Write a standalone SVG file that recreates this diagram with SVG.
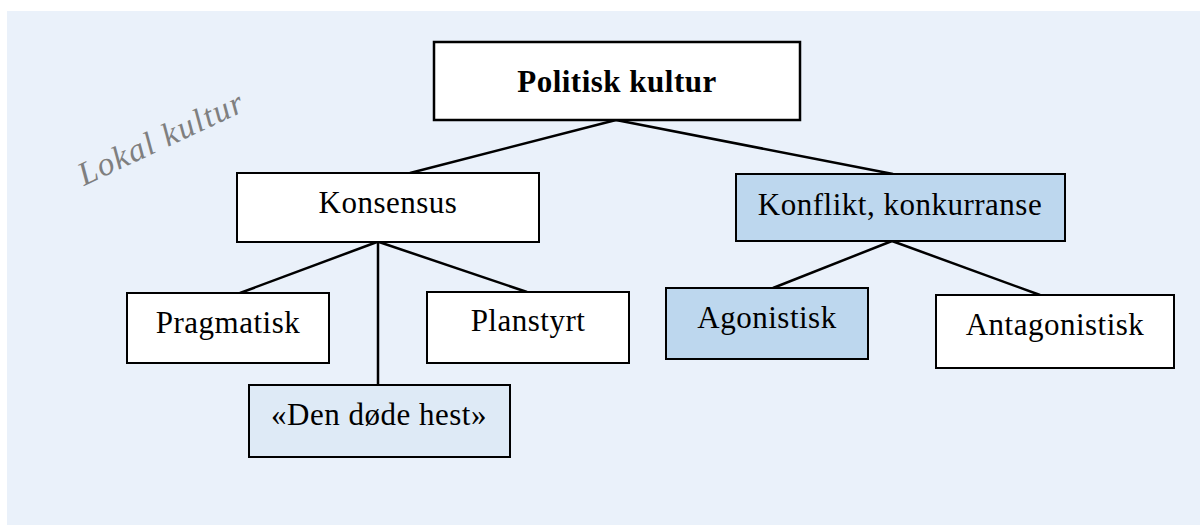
<svg xmlns="http://www.w3.org/2000/svg" width="1200" height="525" viewBox="0 0 1200 525">
  <style>
    .box { stroke: #000; stroke-width: 2; }
    .plain { fill: #ffffff; }
    .blue { fill: #bdd7ee; }
    .pale { fill: #deeaf6; }
    .label { font-family: "Liberation Serif", "Times New Roman", serif; font-size: 31px; letter-spacing: 0.5px; fill: #000; text-anchor: middle; }
    .title { font-weight: bold; }
    .edge { stroke: #000; stroke-width: 2.5; fill: none; }
    .culture { font-family: "Liberation Serif", "Times New Roman", serif; font-style: italic; font-size: 33px; fill: #7f7f7f; letter-spacing: 1.5px; }
  </style>

  <!-- backdrop panel -->
  <rect x="7" y="11" width="1193" height="514" fill="#eaf1fa"/>

  <!-- watermark label -->
  <text class="culture" transform="translate(84,186) rotate(-25)">Lokal kultur</text>

  <!-- connectors -->
  <g id="connectors">
    <line class="edge" x1="616" y1="120" x2="410" y2="173"/>
    <line class="edge" x1="616" y1="120" x2="893" y2="174"/>
    <line class="edge" x1="377" y1="242" x2="240" y2="293"/>
    <line class="edge" x1="378" y1="242" x2="378" y2="385"/>
    <line class="edge" x1="379" y1="242" x2="527" y2="292"/>
    <line class="edge" x1="892" y1="241" x2="773" y2="288"/>
    <line class="edge" x1="892" y1="241" x2="1040" y2="295"/>
  </g>

  <g id="politisk-kultur">
    <rect class="box plain" x="434" y="42" width="366" height="78" style="stroke-width:2.5"/>
    <text class="label title" x="617" y="92">Politisk kultur</text>
  </g>

  <g id="konsensus">
    <rect class="box plain" x="237" y="173" width="302" height="69"/>
    <text class="label" x="388" y="213">Konsensus</text>
  </g>

  <g id="konflikt">
    <rect class="box blue" x="736" y="174" width="329" height="67"/>
    <text class="label" x="900" y="215">Konflikt, konkurranse</text>
  </g>

  <g id="pragmatisk">
    <rect class="box plain" x="127" y="293" width="202" height="70"/>
    <text class="label" x="228" y="333">Pragmatisk</text>
  </g>

  <g id="planstyrt">
    <rect class="box plain" x="427" y="292" width="202" height="71"/>
    <text class="label" x="528" y="331">Planstyrt</text>
  </g>

  <g id="den-dode-hest">
    <rect class="box pale" x="249" y="385" width="261" height="72"/>
    <text class="label" x="379" y="425">«Den døde hest»</text>
  </g>

  <g id="agonistisk">
    <rect class="box blue" x="666" y="288" width="202" height="71"/>
    <text class="label" x="767" y="328">Agonistisk</text>
  </g>

  <g id="antagonistisk">
    <rect class="box plain" x="936" y="295" width="238" height="73"/>
    <text class="label" x="1055" y="335">Antagonistisk</text>
  </g>
</svg>
